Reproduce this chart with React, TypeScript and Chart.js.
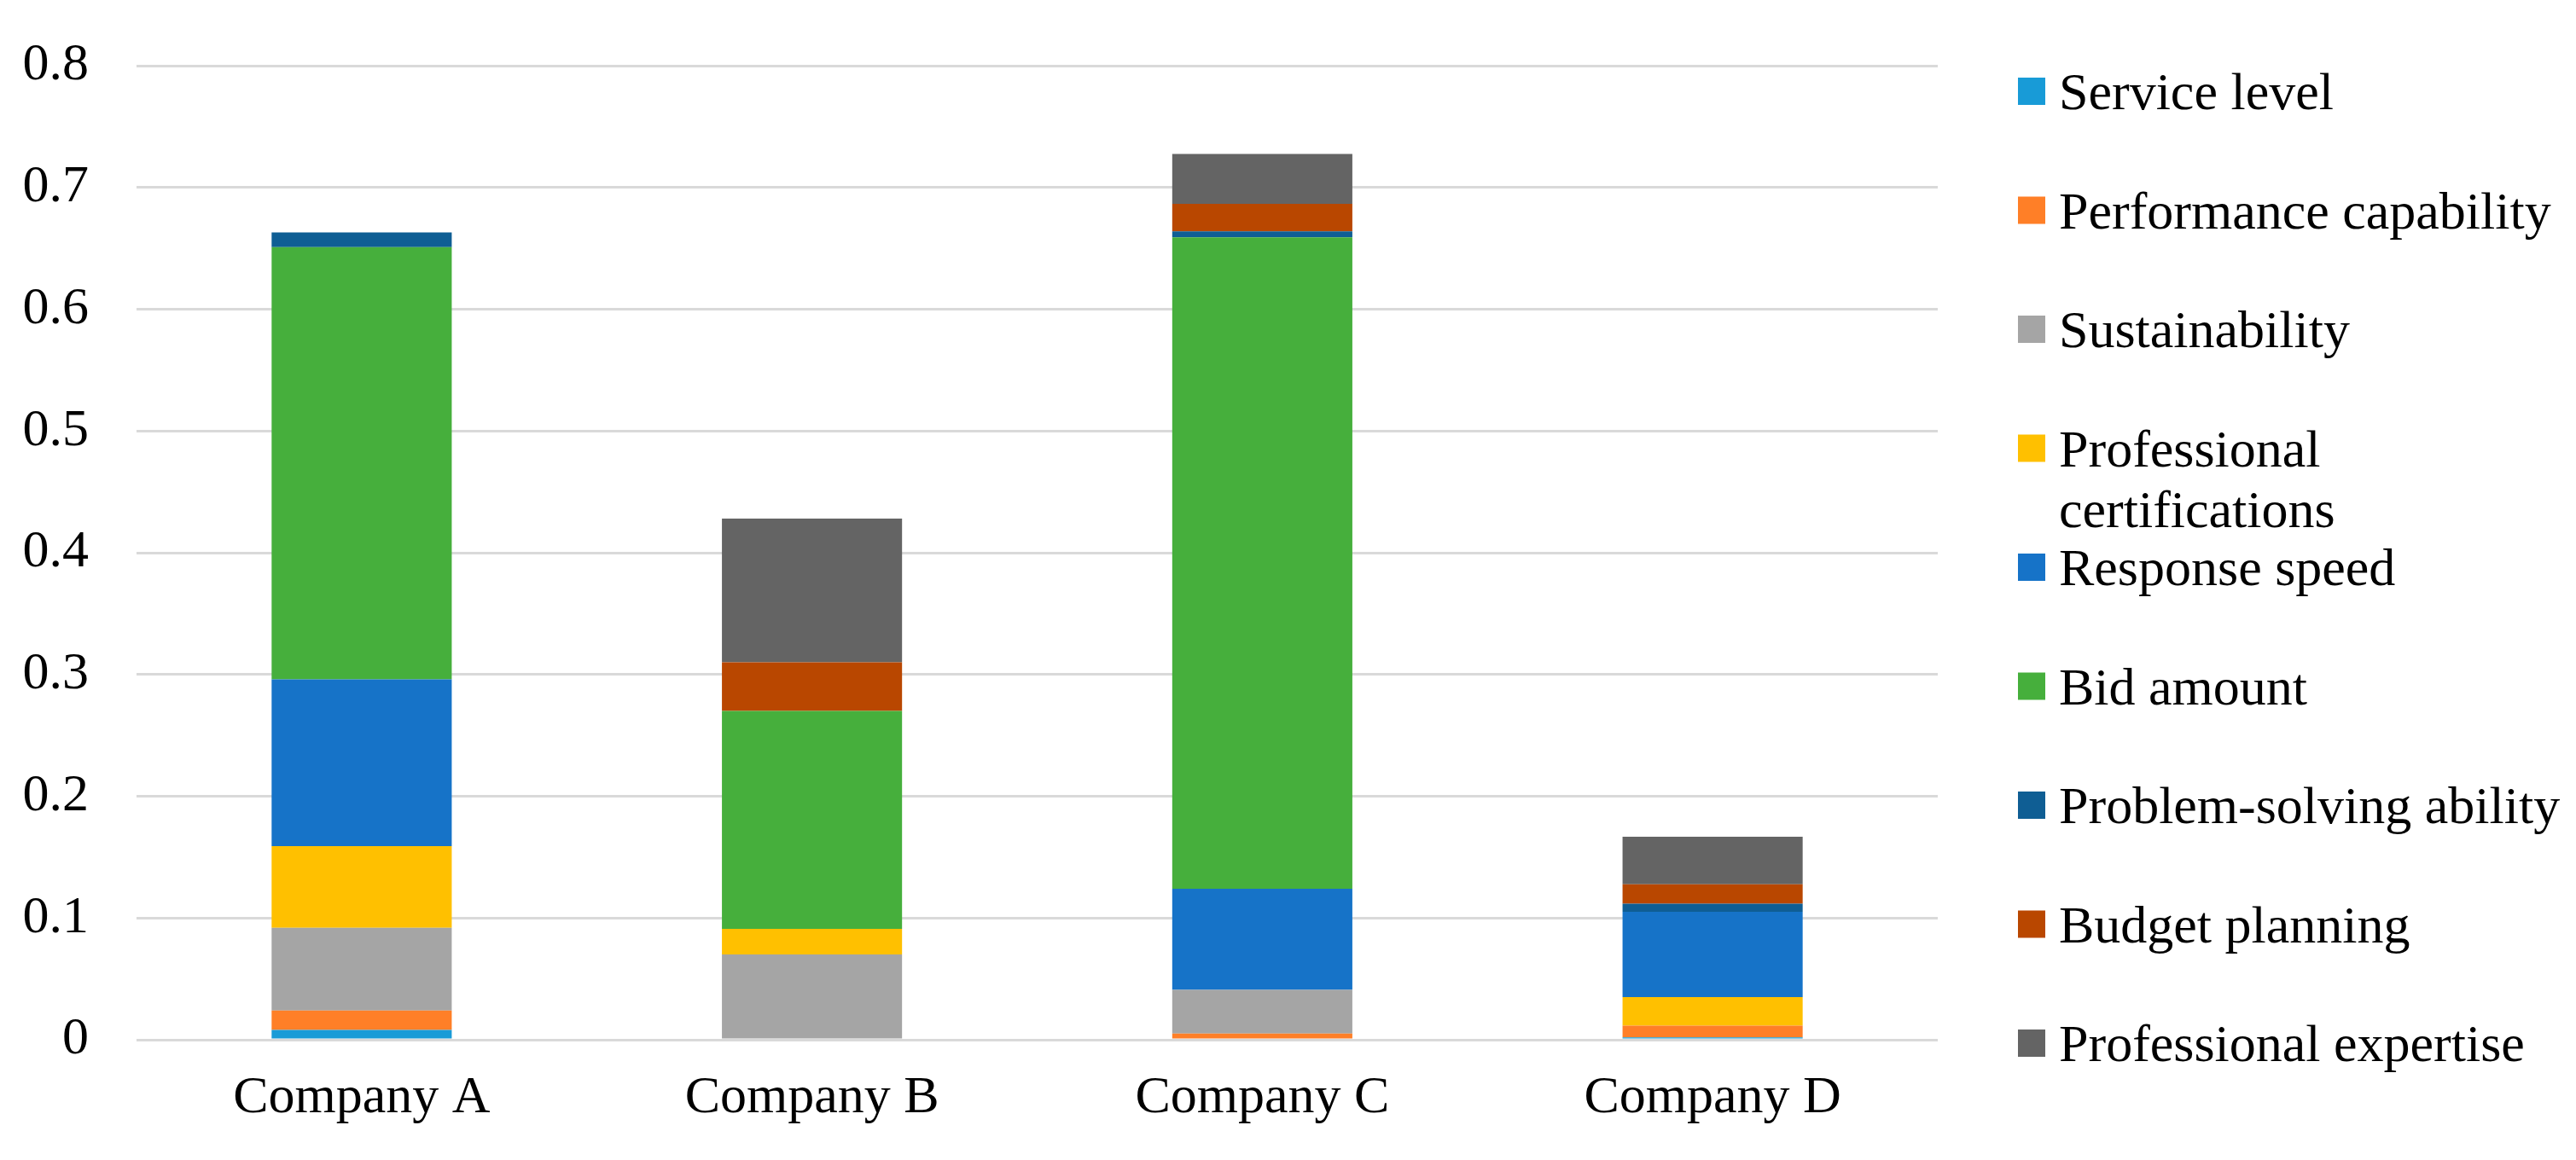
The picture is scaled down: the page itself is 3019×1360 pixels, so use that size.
import React, { useEffect, useRef } from 'react';
import { Chart, registerables } from 'chart.js';

Chart.register(...registerables);

const categories = ['Company A', 'Company B', 'Company C', 'Company D'];

const seriesNames = [
  'Service level',
  'Performance capability',
  'Sustainability',
  'Professional certifications',
  'Response speed',
  'Bid amount',
  'Problem-solving ability',
  'Budget planning',
  'Professional expertise',
];

const legendLines = [
  ['Service level'],
  ['Performance capability'],
  ['Sustainability'],
  ['Professional', 'certifications'],
  ['Response speed'],
  ['Bid amount'],
  ['Problem-solving ability'],
  ['Budget planning'],
  ['Professional expertise'],
];

const serviceLevel = [0.008, 0, 0, 0.002];
const performanceCapability = [0.016, 0, 0.005, 0.0095];
const sustainability = [0.068, 0.07, 0.036, 0];
const professionalCertifications = [0.067, 0.021, 0, 0.0235];
const responseSpeed = [0.137, 0, 0.083, 0.07];
const bidAmount = [0.355, 0.179, 0.535, 0];
const problemSolvingAbility = [0.012, 0, 0.005, 0.0067];
const budgetPlanning = [0, 0.04, 0.0225, 0.016];
const professionalExpertise = [0, 0.118, 0.041, 0.039];

const yTickLabels = ['0', '0.1', '0.2', '0.3', '0.4', '0.5', '0.6', '0.7', '0.8'];

const seriesValues = [
  serviceLevel,
  performanceCapability,
  sustainability,
  professionalCertifications,
  responseSpeed,
  bidAmount,
  problemSolvingAbility,
  budgetPlanning,
  professionalExpertise,
];

const seriesColors = [
  '#189BD7',
  '#FF7F27',
  '#A5A5A5',
  '#FFC000',
  '#1673C8',
  '#46AF3C',
  '#0F5E94',
  '#B94700',
  '#646464',
];

const FONT_FAMILY = "'Liberation Serif', 'Times New Roman', serif";
const FONT_SIZE = 62;

const sideLegend = {
  id: 'sideLegend',
  afterDraw(chart: any) {
    const ctx = chart.ctx;
    const area = chart.chartArea;
    const boxX = area.right + 94;
    const textX = boxX + 48;
    const top = 107;
    const step = 139.5;
    ctx.save();
    ctx.font = `${FONT_SIZE}px ${FONT_FAMILY}`;
    ctx.textBaseline = 'alphabetic';
    ctx.textAlign = 'left';
    chart.data.datasets.forEach((ds: any, i: number) => {
      const cy = top + i * step;
      ctx.fillStyle = ds.backgroundColor;
      ctx.fillRect(boxX, cy - 16, 32, 32);
      ctx.fillStyle = '#000000';
      legendLines[i].forEach((line: string, j: number) => {
        ctx.fillText(line, textX, cy + 21 + j * 71);
      });
    });
    ctx.restore();
  },
};

export default function App() {
  const canvasRef = useRef<HTMLCanvasElement | null>(null);

  useEffect(() => {
    const canvas = canvasRef.current;
    if (!canvas) return;
    const chart = new Chart(canvas, {
      type: 'bar',
      data: {
        labels: categories,
        datasets: seriesNames.map((name, i) => ({
          label: name,
          data: seriesValues[i],
          backgroundColor: seriesColors[i],
          borderWidth: 0,
          barPercentage: 0.4,
          categoryPercentage: 1.0,
        })),
      },
      options: {
        animation: false,
        responsive: true,
        maintainAspectRatio: false,
        layout: {
          padding: { left: 0, right: 748, top: 77, bottom: 0 },
        },
        plugins: {
          legend: { display: false },
          tooltip: { enabled: false },
        },
        scales: {
          x: {
            stacked: true,
            grid: { display: false, drawTicks: false },
            border: { display: false },
            ticks: {
              color: '#000000',
              padding: 32,
              font: { family: FONT_FAMILY, size: FONT_SIZE },
            },
            afterFit: (scale: any) => {
              scale.height = 141;
              scale.paddingLeft = 0;
              scale.paddingRight = 0;
            },
          },
          y: {
            stacked: true,
            min: 0,
            max: 0.8,
            grid: { color: '#D9D9D9', lineWidth: 3, drawTicks: false },
            border: { display: false },
            ticks: {
              stepSize: 0.1,
              color: '#000000',
              padding: 56,
              font: { family: FONT_FAMILY, size: FONT_SIZE },
              callback: (_v: any, index: number) => yTickLabels[index],
            },
            afterFit: (scale: any) => {
              scale.width = 160;
              scale.paddingTop = 0;
              scale.paddingBottom = 0;
            },
          },
        },
      },
      plugins: [sideLegend],
    });
    return () => chart.destroy();
  }, []);

  return (
    <div style={{ position: 'fixed', left: 0, top: 0, width: '100vw', height: '100vh', background: '#ffffff' }}>
      <canvas ref={canvasRef} />
    </div>
  );
}
